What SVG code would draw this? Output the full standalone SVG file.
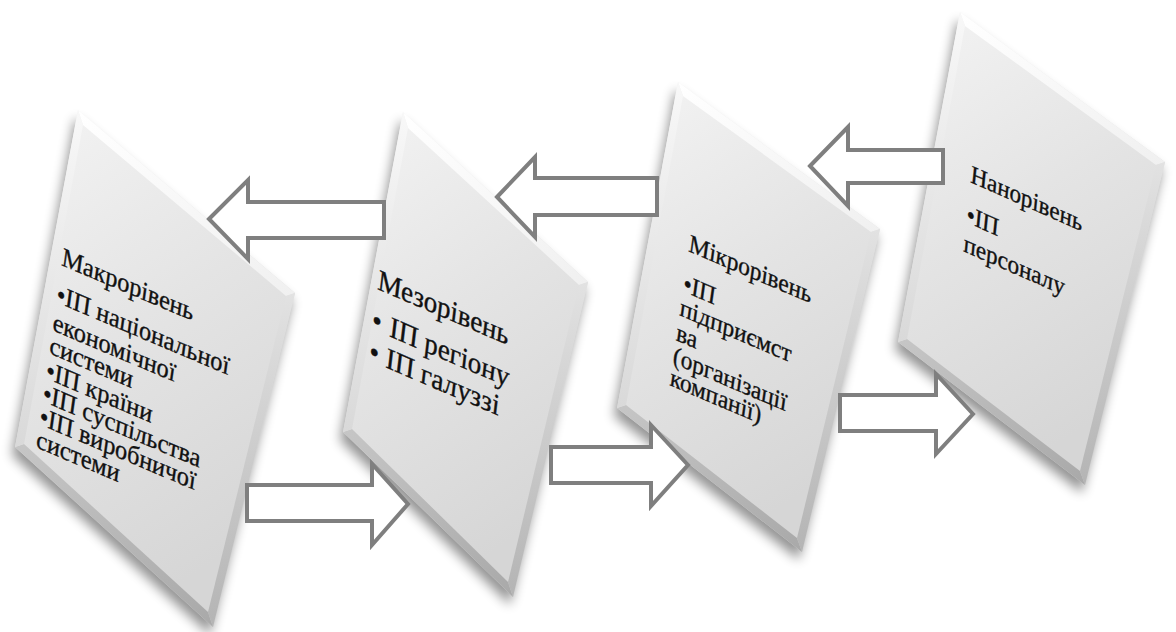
<svg xmlns="http://www.w3.org/2000/svg" width="1176" height="632" viewBox="0 0 1176 632">
<defs>
<linearGradient id="face" x1="0" y1="0" x2="0.35" y2="1">
<stop offset="0" stop-color="#f4f4f4"/><stop offset="0.5" stop-color="#e4e4e4"/><stop offset="1" stop-color="#d6d6d6"/>
</linearGradient>
<linearGradient id="bevT" x1="0" y1="0" x2="1" y2="1"><stop offset="0" stop-color="#ffffff"/><stop offset="1" stop-color="#f0f0f0"/></linearGradient>
<linearGradient id="bevR" x1="0" y1="0" x2="0" y2="1"><stop offset="0" stop-color="#e2e2e2"/><stop offset="1" stop-color="#b4b4b4"/></linearGradient>
<linearGradient id="bevB" x1="0" y1="0" x2="1" y2="1"><stop offset="0" stop-color="#c6c6c6"/><stop offset="1" stop-color="#a9a9a9"/></linearGradient>
<linearGradient id="bevL" x1="0" y1="0" x2="0" y2="1"><stop offset="0" stop-color="#f8f8f8"/><stop offset="1" stop-color="#d9d9d9"/></linearGradient>
<filter id="blur" x="-30%" y="-30%" width="160%" height="160%"><feGaussianBlur stdDeviation="6"/></filter>
</defs>
<style>
.shadow{fill:#000;opacity:.42;filter:url(#blur)}
.face{fill:url(#face)}
.bt{fill:url(#bevT)} .br{fill:url(#bevR)} .bb{fill:url(#bevB)} .bl{fill:url(#bevL)}
.txt{font-family:"Liberation Serif","Times New Roman",serif;fill:#111;stroke:#111;stroke-width:0.35}
.arrow{fill:#fff;stroke:#7f7f7f;stroke-width:4;stroke-linejoin:miter}
</style>
<rect width="1176" height="632" fill="#fff"/>

<g id="macro">
<polygon class="shadow" points="75,118 292,301 210,635 12,455"/>
<polygon class="face" points="78,110 295,293 213,627 15,447"/>
<polygon class="bt" points="78,110 295,293 286,296 83,125"/>
<polygon class="br" points="295,293 213,627 208,612 286,296"/>
<polygon class="bb" points="213,627 15,447 24,444 208,612"/>
<polygon class="bl" points="15,447 78,110 83,125 24,444"/>
<g class="txt" font-size="26" transform="matrix(0.92,0.39,-0.14,1,61,265)">
<text x="0" y="0">Макрорівень</text>
<text x="0" y="37">•ІП національної</text>
<text x="0" y="65">економічної</text>
<text x="0" y="88">системи</text>
<text x="0" y="113">•ІП країни</text>
<text x="0" y="136">•ІП суспільства</text>
<text x="0" y="159">•ІП виробничої</text>
<text x="0" y="182">системи</text>
</g>
</g>

<g id="mezo">
<polygon class="shadow" points="400,120 585,290 510,605 340,440"/>
<polygon class="face" points="403,112 588,282 513,597 343,432"/>
<polygon class="bt" points="403,112 588,282 579,285 408,128"/>
<polygon class="br" points="588,282 513,597 508,582 579,285"/>
<polygon class="bb" points="513,597 343,432 352,429 508,582"/>
<polygon class="bl" points="343,432 403,112 408,128 352,429"/>
<g class="txt" font-size="29" transform="matrix(0.92,0.394,-0.12,1,377,289)">
<text x="0" y="0">Мезорівень</text>
<text x="-1" y="40">•</text><text x="18" y="40">ІП регіону</text>
<text x="0" y="71">•</text><text x="18" y="71">ІП галуззі</text>
</g>
</g>

<g id="micro">
<polygon class="shadow" points="675,90 877,237 799,560 614,416"/>
<polygon class="face" points="678,82 880,229 802,552 617,408"/>
<polygon class="bt" points="678,82 880,229 871,232 683,96"/>
<polygon class="br" points="880,229 802,552 797,538 871,232"/>
<polygon class="bb" points="802,552 617,408 626,405 797,538"/>
<polygon class="bl" points="617,408 678,82 683,96 626,405"/>
<g class="txt" font-size="25" transform="matrix(0.92,0.392,-0.14,1,688,251)">
<text x="0" y="0">Мікрорівень</text>
<text x="0" y="40">•ІП</text>
<text x="0" y="64">підприємст</text>
<text x="0" y="89">ва</text>
<text x="0" y="112">(організації</text>
<text x="0" y="134">компанії)</text>
</g>
</g>

<g id="nano">
<polygon class="shadow" points="957,20 1162,170 1082,493 895,350"/>
<polygon class="face" points="960,12 1165,162 1085,485 898,342"/>
<polygon class="bt" points="960,12 1165,162 1156,165 965,26"/>
<polygon class="br" points="1165,162 1085,485 1080,471 1156,165"/>
<polygon class="bb" points="1085,485 898,342 907,339 1080,471"/>
<polygon class="bl" points="898,342 960,12 965,26 907,339"/>
<g class="txt" font-size="25" transform="matrix(0.915,0.404,-0.1,1,970,182)">
<text x="0" y="0">Нанорівень</text>
<text x="0" y="40">•ІП</text>
<text x="0" y="69">персоналу</text>
</g>
</g>

<g id="connectors">
<polygon class="arrow" points="810,166 848,127 848,150 943,150 943,183 848,183 848,206"/>
<polygon class="arrow" points="497,197 535,157 535,178 657,178 657,215 535,215 535,237"/>
<polygon class="arrow" points="209,219 248,180 248,202 384,202 384,238 248,238 248,259"/>
<polygon class="arrow" points="408,504 372,464 372,485 247,485 247,521 372,521 372,545"/>
<polygon class="arrow" points="688,465 651,425 651,447 551,447 551,483 651,483 651,506"/>
<polygon class="arrow" points="973,414 936,374 936,395 840,395 840,431 936,431 936,454"/>
</g>
</svg>
